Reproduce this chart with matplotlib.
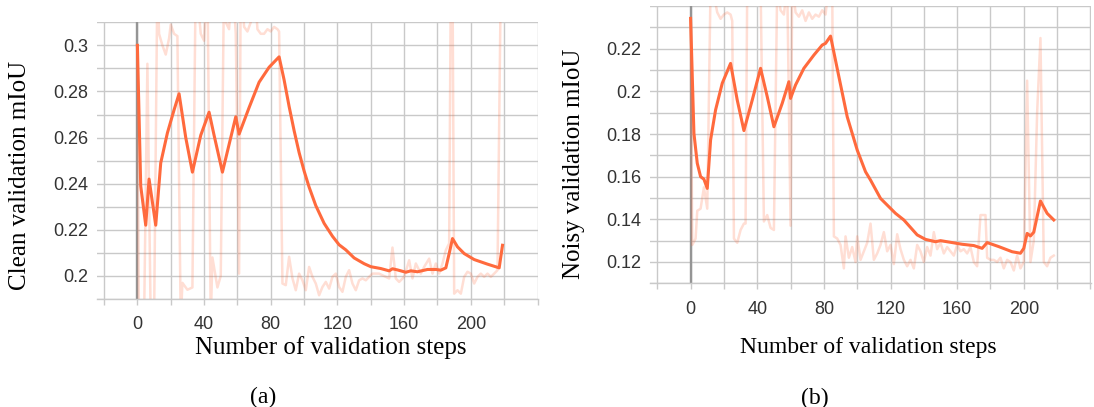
import numpy as np
import matplotlib
matplotlib.use("Agg")
import matplotlib.pyplot as plt

# smoothed curves
clean_steps = [0, 2, 5, 7, 11, 14, 18, 22, 25, 29, 33, 38, 43, 46, 51, 54, 59, 61, 67, 73, 79, 83, 85,
               88, 91, 94, 97, 100, 103, 107, 112, 117, 121, 125, 130, 136, 140, 146, 151, 153, 156,
               161, 164, 168, 174, 179, 182, 185, 187, 189, 192, 196, 202, 210, 217, 219]
clean_smooth = [0.300, 0.239, 0.222, 0.242, 0.222, 0.249, 0.262, 0.272, 0.279, 0.260, 0.245, 0.261,
                0.271, 0.261, 0.245, 0.254, 0.269, 0.2615, 0.273, 0.284, 0.2905, 0.2935, 0.295,
                0.285, 0.2735, 0.263, 0.2535, 0.2455, 0.2385, 0.2305, 0.2228, 0.2172, 0.2135, 0.2113,
                0.2078, 0.2053, 0.204, 0.2032, 0.2022, 0.2031, 0.2026, 0.2016, 0.2022, 0.2018, 0.2028,
                0.2028, 0.2025, 0.2035, 0.2097, 0.2162, 0.2126, 0.2097, 0.2071, 0.2051, 0.2035, 0.2133]

# raw (faint) curve, values past the axis limits are clipped by the view
clean_raw_steps = [0, 1, 3, 4, 6, 8, 10, 12, 13, 15, 17, 19, 20, 22, 24, 26, 27, 30, 33, 35, 38, 40,
                   42, 44, 45, 48, 50, 52, 53, 55, 57, 59, 61, 62, 64, 66, 68, 70, 72, 74, 76, 78, 80,
                   82, 84, 85, 87, 89, 91, 93, 95, 97, 99, 101, 103, 105, 107, 109, 111, 113, 115, 117,
                   119, 121, 123, 125, 127, 129, 131, 133, 135, 137, 139, 141, 145, 149, 151, 153, 155,
                   157, 160, 163, 165, 167, 170, 172, 175, 177, 179, 181, 183, 185, 187, 188, 189, 190,
                   192, 194, 196, 198, 200, 202, 204, 206, 208, 210, 212, 214, 216, 218, 220]
clean_raw = [0.300, 0.17, 0.18, 0.18, 0.292, 0.18, 0.18, 0.33, 0.305, 0.300, 0.296, 0.303, 0.309,
             0.305, 0.304, 0.18, 0.197, 0.194, 0.195, 0.33, 0.305, 0.302, 0.33, 0.18, 0.208, 0.195,
             0.200, 0.33, 0.310, 0.307, 0.33, 0.305, 0.201, 0.33, 0.308, 0.306, 0.310, 0.33, 0.307,
             0.305, 0.305, 0.307, 0.306, 0.308, 0.307, 0.306, 0.1967, 0.196, 0.2083, 0.199, 0.1938,
             0.201, 0.1981, 0.1938, 0.2039, 0.1996, 0.1967, 0.1916, 0.1952, 0.1974, 0.1945, 0.1996,
             0.201, 0.1952, 0.1931, 0.1996, 0.2025, 0.1967, 0.1938, 0.1981, 0.1989, 0.1981, 0.1996,
             0.201, 0.201, 0.1996, 0.1989, 0.2123, 0.1989, 0.1974, 0.1996, 0.2068, 0.1989, 0.2054,
             0.201, 0.2039, 0.2075, 0.201, 0.2054, 0.201, 0.2054, 0.2112, 0.2141, 0.33, 0.33, 0.1923,
             0.1938, 0.1923, 0.1996, 0.2018, 0.201, 0.1967, 0.1996, 0.201, 0.1996, 0.201, 0.1996,
             0.201, 0.2025, 0.33, 0.33]

noisy_steps = [0, 2, 4, 6, 8, 10, 12, 15, 19, 24, 28, 32, 37, 42, 46, 50, 55, 59, 60, 63, 68, 74, 79,
               81, 84, 89, 94, 100, 105, 108, 114, 123, 128, 136, 141, 147, 150, 157, 163, 170, 175,
               178, 185, 193, 198, 200, 202, 204, 206, 210, 214, 218]
noisy_smooth = [0.2342, 0.1803, 0.1663, 0.160, 0.1588, 0.1545, 0.1772, 0.1913, 0.2038, 0.2131, 0.1959,
                0.1816, 0.1959, 0.2108, 0.1975, 0.1834, 0.1944, 0.2045, 0.1967, 0.2030, 0.2108, 0.2170,
                0.2217, 0.2225, 0.2259, 0.2069, 0.1881, 0.1725, 0.1623, 0.1584, 0.1498, 0.1428, 0.1397,
                0.1327, 0.1306, 0.1295, 0.1300, 0.1291, 0.1283, 0.1277, 0.1264, 0.1291, 0.1272, 0.1248,
                0.1241, 0.1264, 0.1334, 0.1322, 0.1340, 0.1486, 0.1428, 0.1397]

noisy_raw_steps = [0, 1, 3, 4, 6, 8, 10, 12, 14, 16, 18, 20, 22, 24, 25, 26, 28, 30, 32, 33, 34, 36,
                   38, 40, 42, 44, 46, 48, 50, 52, 54, 56, 58, 60, 61, 63, 65, 67, 69, 71, 73, 75, 77,
                   79, 81, 83, 85, 86, 88, 90, 92, 93, 95, 97, 99, 100, 102, 104, 106, 108, 110, 112,
                   114, 116, 118, 120, 122, 124, 126, 128, 130, 132, 134, 136, 138, 140, 142, 144, 146,
                   148, 150, 152, 154, 156, 158, 160, 162, 164, 166, 168, 170, 172, 174, 177, 178, 180,
                   182, 184, 186, 188, 190, 192, 194, 196, 198, 200, 202, 204, 206, 208, 210, 212, 214,
                   216, 218]
noisy_raw = [0.234, 0.128, 0.131, 0.144, 0.145, 0.155, 0.145, 0.25, 0.245, 0.237, 0.234, 0.236, 0.237,
             0.236, 0.233, 0.131, 0.129, 0.135, 0.138, 0.138, 0.25, 0.25, 0.25, 0.25, 0.25, 0.139,
             0.142, 0.136, 0.135, 0.25, 0.238, 0.236, 0.25, 0.137, 0.25, 0.237, 0.235, 0.238, 0.233,
             0.237, 0.234, 0.236, 0.235, 0.238, 0.236, 0.25, 0.25, 0.132, 0.131, 0.128, 0.117, 0.132,
             0.122, 0.127, 0.120, 0.132, 0.121, 0.125, 0.129, 0.138, 0.121, 0.124, 0.128, 0.134,
             0.125, 0.128, 0.119, 0.133, 0.126, 0.121, 0.118, 0.121, 0.117, 0.128, 0.125, 0.120,
             0.127, 0.123, 0.134, 0.126, 0.129, 0.124, 0.127, 0.125, 0.123, 0.128, 0.125, 0.126,
             0.124, 0.127, 0.120, 0.118, 0.142, 0.142, 0.122, 0.121, 0.121, 0.120, 0.122, 0.117,
             0.121, 0.120, 0.116, 0.123, 0.117, 0.120, 0.205, 0.120, 0.130, 0.190, 0.225, 0.120,
             0.118, 0.122, 0.123]

x_ticks = list(range(-20, 241, 20))
x_labels = ["0", "40", "80", "120", "160", "200"]
clean_ylabels = ["0.2", "0.22", "0.24", "0.26", "0.28", "0.3"]
noisy_ylabels = ["0.12", "0.14", "0.16", "0.18", "0.2", "0.22"]

line_color = "#ff6a3d"
grid_color = "#c9c9c9"
sans = ["Liberation Sans", "DejaVu Sans"]
serif = ["Liberation Serif", "DejaVu Serif"]

fig = plt.figure(figsize=(10.94, 4.07), dpi=100)
ax_a = fig.add_axes([0.0884, 0.2654, 0.4034, 0.6799])
ax_b = fig.add_axes([0.5941, 0.3039, 0.4031, 0.6813])


def style_axis(ax, ylo, yhi, shown):
    ax.set_xlim(-24.4, 240.3)
    ax.set_ylim(ylo, yhi)
    for s in ["top", "right", "left"]:
        ax.spines[s].set_visible(False)
    ax.spines["bottom"].set_color(grid_color)
    ax.spines["bottom"].set_linewidth(1.0)
    ax.set_xticks(x_ticks)
    ax.set_xticklabels([str(t) if str(t) in x_labels else "" for t in x_ticks])
    yt = np.round(np.arange(ylo, yhi + 0.001, 0.01), 2)
    ax.set_yticks(yt)
    ax.set_yticklabels([f"{v:g}" if f"{v:g}" in shown else "" for v in yt])
    ax.tick_params(axis="x", length=4.3, width=1.0, color=grid_color, pad=8.3,
                   labelsize=13, labelcolor="#333333")
    ax.tick_params(axis="y", length=0, pad=6, labelsize=13, labelcolor="#333333")
    for lbl in ax.get_xticklabels() + ax.get_yticklabels():
        lbl.set_family(sans)
    ax.grid(True, color=grid_color, linewidth=1.0)
    ax.set_axisbelow(True)
    ax.axvline(0, color="#959595", linewidth=1.7, zorder=1)


style_axis(ax_a, 0.19, 0.31, clean_ylabels)
style_axis(ax_b, 0.11, 0.24, noisy_ylabels)

ax_a.plot(clean_raw_steps, clean_raw, color=line_color, alpha=0.22, linewidth=1.8, zorder=2)
ax_a.plot(clean_steps, clean_smooth, color=line_color, linewidth=2.2, zorder=3)
ax_b.plot(noisy_raw_steps, noisy_raw, color=line_color, alpha=0.22, linewidth=1.8, zorder=2)
ax_b.plot(noisy_steps, noisy_smooth, color=line_color, linewidth=2.2, zorder=3)

fig.text(0.0183, 0.570, "Clean validation mIoU", rotation=90, ha="center", va="center",
         fontsize=18, family=serif)
fig.text(0.5247, 0.597, "Noisy validation mIoU", rotation=90, ha="center", va="center",
         fontsize=18, family=serif)
fig.text(0.3023, 0.1474, "Number of validation steps", ha="center", va="center",
         fontsize=18, family=serif)
fig.text(0.7941, 0.1457, "Number of validation steps", ha="center", va="center",
         fontsize=17, family=serif)
fig.text(0.2407, 0.0246, "(a)", ha="center", va="center", fontsize=17, family=serif)
fig.text(0.745, 0.0221, "(b)", ha="center", va="center", fontsize=17, family=serif)

fig.savefig("out.png", dpi=100)
